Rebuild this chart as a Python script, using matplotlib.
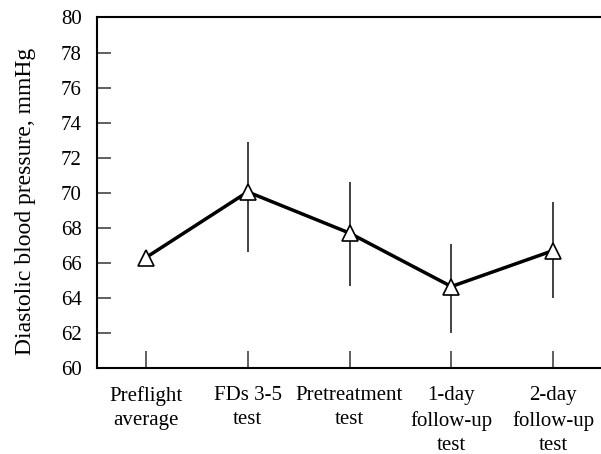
import matplotlib
matplotlib.use("Agg")
import matplotlib.pyplot as plt
import numpy as np

categories = ["Preflight\naverage", "FDs 3-5\ntest", "Pretreatment\ntest",
              "1-day\nfollow-up\ntest", "2-day\nfollow-up\ntest"]
means = [66.3, 70.05, 67.7, 64.65, 66.7]
err_upper = [66.3, 72.9, 70.6, 67.1, 69.5]
err_lower = [66.3, 66.6, 64.7, 62.0, 64.0]
yticks = [60, 62, 64, 66, 68, 70, 72, 74, 76, 78, 80]

plt.rcParams['font.family'] = ['Liberation Serif', 'DejaVu Serif']

fig = plt.figure(figsize=(6.01, 4.54), dpi=100)
ax = fig.add_axes([0.1614, 0.1894, 0.8386, 0.7721])

x = np.arange(len(categories))
m = np.array(means)
yerr = [m - np.array(err_lower), np.array(err_upper) - m]
ax.errorbar(x[1:], m[1:], yerr=[yerr[0][1:], yerr[1][1:]], fmt='none',
            ecolor='#333333', elinewidth=1.3, capsize=0, zorder=2)
ax.plot(x, m, color='black', lw=2.5, zorder=3)
ax.plot(x, m, linestyle='none', marker='^', markersize=11.5,
        markerfacecolor='white', markeredgecolor='black', markeredgewidth=1.2,
        zorder=4)

ax.set_xlim(-0.48, 4.47)
ax.set_ylim(60, 80)
ax.set_yticks(yticks)
ax.set_xticks(x)
ax.set_xticklabels(categories, fontsize=15, linespacing=1.38)
ax.tick_params(axis='y', direction='in', length=10, width=1.2, color='#444444',
               labelsize=15, pad=11)
ax.tick_params(axis='x', direction='in', length=12, width=1.2, color='#444444',
               pad=13)
for s in ['left', 'bottom', 'top']:
    ax.spines[s].set_linewidth(1.5)
    ax.spines[s].set_color('black')
ax.spines['right'].set_visible(False)
ax.set_ylabel("Diastolic blood pressure, mmHg", fontsize=17, labelpad=18)
ax.yaxis.label.set_y(0.476)

fig.savefig("out.png", dpi=100)
